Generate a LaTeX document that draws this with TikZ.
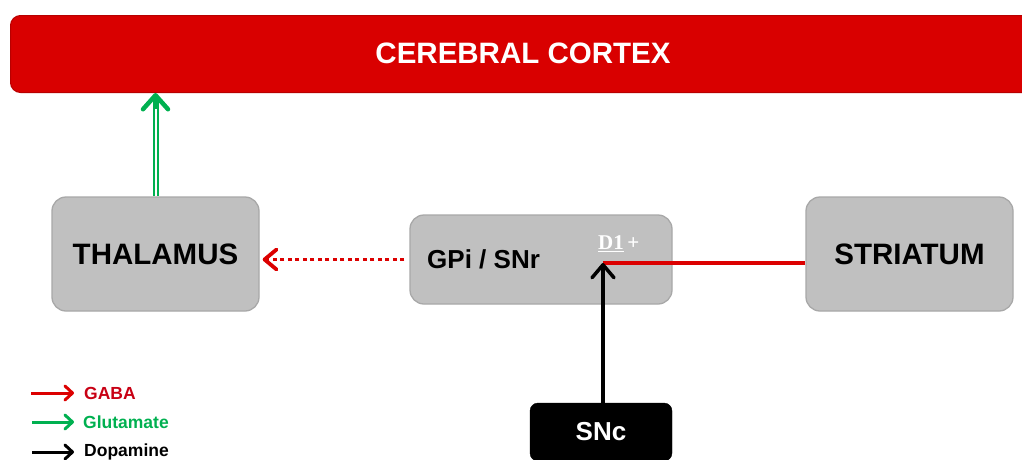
\documentclass[tikz,border=0pt]{standalone}
\usepackage{fontspec}
\setmainfont{Liberation Sans}
\newfontfamily\serifb{Liberation Serif}
\usetikzlibrary{arrows.meta}
\definecolor{cortexred}{RGB}{217,0,0}
\definecolor{boxgray}{RGB}{192,192,192}
\definecolor{boxedge}{RGB}{168,168,168}
\definecolor{glu}{RGB}{0,176,80}
\definecolor{gaba}{RGB}{220,0,0}
\definecolor{gabatxt}{RGB}{200,0,20}
\tikzset{
  region/.style={draw=boxedge, line width=1.3pt, fill=boxgray, rounded corners=14pt,
    font=\bfseries\fontsize{29.5}{31}\selectfont},
  chev/.style={-{Straight Barb[length=13pt,width=22pt,line cap=round,line join=round]}},
  smallchev/.style={-{Straight Barb[length=7.5pt,width=14pt,line cap=round,line join=round]}},
  legtext/.style={anchor=west, font=\bfseries\fontsize{17.5}{18}\selectfont, inner sep=0pt}
}
\begin{document}
\begin{tikzpicture}[x=1pt,y=-1pt]
\useasboundingbox (0,0) rectangle (1022,459);
% cortex
\node[fill=cortexred, draw=cortexred!85!black, line width=1pt, rounded corners=10pt,
      minimum width=1030, minimum height=77, anchor=north west, inner sep=0pt] (cortex) at (10,15) {};
\node[text=white, font=\bfseries\fontsize{29.5}{31}\selectfont] (ctext) at (523,53) {CEREBRAL CORTEX};
% regions
\node[region, minimum width=207, minimum height=114] (thal) at (155.5,254) {THALAMUS};
\node[region, minimum width=262, minimum height=89] (gpi) at (541,259.5) {};
\node[anchor=west, font=\bfseries\fontsize{26}{28}\selectfont, inner sep=0pt] (gpitext) at (427,259) {GPi / SNr};
\node[anchor=west, text=white, font=\serifb\bfseries\fontsize{21}{22}\selectfont, inner sep=0pt] (d1text) at (598,244) {\underline{D1}\,+};
\node[region, minimum width=207, minimum height=114] (stri) at (909.5,254) {STRIATUM};
\node[fill=black, draw=black, rounded corners=8pt, minimum width=142, minimum height=58,
      text=white, font=\bfseries\fontsize{26}{28}\selectfont] (snc) at (601,432) {SNc};
% connectors
\coordinate (d1) at (603,263);
\draw[gaba, line width=3.5pt] (stri.west |- d1) -- (d1);
\draw[black, line width=3.5pt, chev] (snc.north -| d1) -- (d1);
\draw[gaba, line width=3.8pt, dash pattern=on 4pt off 3.5pt, -{Straight Barb[length=12pt,width=20pt,line cap=round,line join=round]}]
  ([xshift=-5pt]gpi.west) -- ([xshift=3pt]gpi.west -| thal.east);
\coordinate (gtip) at (thal.north |- cortex.south);
\draw[glu, double=white, double distance=2pt, line width=2pt, shorten >=5pt] (thal.north) -- (gtip);
\draw[glu, line width=4.5pt, -{Straight Barb[length=14pt,width=25pt,line cap=round,line join=round]}] ([yshift=-16pt]gtip) -- (gtip);
% legend
\coordinate (l1a) at (31,393); \coordinate (l1b) at (74,393);
\coordinate (l2a) at (32,422); \coordinate (l2b) at (74,422);
\coordinate (l3a) at (32,452); \coordinate (l3b) at (74,452);
\draw[gaba, line width=3pt, smallchev] (l1a) -- (l1b);
\draw[glu, line width=3pt, smallchev] (l2a) -- (l2b);
\draw[black, line width=3pt, smallchev] (l3a) -- (l3b);
\node[legtext, text=gabatxt] (lgaba) at (84,393) {GABA};
\node[legtext, text=glu] (lglu) at (83,422) {Glutamate};
\node[legtext, text=black] (ldopa) at (84,452) {Dopamine};
\end{tikzpicture}
\end{document}
